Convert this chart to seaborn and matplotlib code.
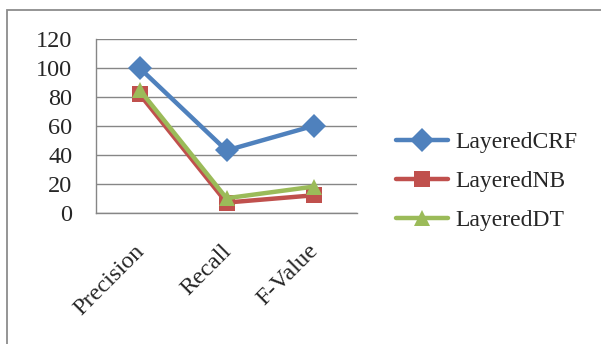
import matplotlib
matplotlib.use("Agg")
import matplotlib.pyplot as plt
import seaborn as sns
import pandas as pd
from matplotlib.patches import Rectangle
from matplotlib.lines import Line2D

categories = ["Precision", "Recall", "F-Value"]
series_names = ["LayeredCRF", "LayeredNB", "LayeredDT"]
crf_values = [100, 43, 60]
nb_values = [82, 7, 12]
dt_values = [85, 10, 18]
y_ticks = [0, 20, 40, 60, 80, 100, 120]

colors = ["#4F81BD", "#C0504D", "#9BBB59"]
markers = ["D", "s", "^"]
FS = 17.5

rows = []
for name, vals in zip(series_names, [crf_values, nb_values, dt_values]):
    for i, (c, v) in enumerate(zip(categories, vals)):
        rows.append({"pos": i, "category": c, "value": v, "series": name})
df = pd.DataFrame(rows)

sns.set_style("white")
plt.rcParams["font.family"] = ["Liberation Serif", "DejaVu Serif"]

fig = plt.figure(figsize=(6.01, 3.44), dpi=100)
ax = fig.add_axes([96 / 601, 1 - 212.7 / 344, (357 - 96) / 601, (212.7 - 39) / 344])

# outer chart frame (top and left edges visible)
fig.patches.append(Rectangle((7 / 601, -0.05), 1.1, 1 - 10 / 344 + 0.05,
                             transform=fig.transFigure, fill=False,
                             edgecolor="#8c8c8c", linewidth=1.3))

sns.lineplot(data=df, x="pos", y="value", hue="series", style="series",
             palette=colors, markers=markers, dashes=False, linewidth=3.2,
             markersize=12, markeredgewidth=0, ax=ax, legend=False, sort=False)

ax.set_xlim(-0.5, 2.5)
ax.set_ylim(0, 120)
ax.set_yticks(y_ticks)
ax.set_yticklabels([str(t) for t in y_ticks], fontsize=FS)
ax.set_xticks([-0.5, 0.5, 1.5, 2.5])
ax.set_xticklabels([])
ax.set_xlabel("")
ax.set_ylabel("")
ax.grid(axis="y", color="#868686", linewidth=1)
ax.set_axisbelow(True)
for s in ["top", "right"]:
    ax.spines[s].set_visible(False)
for s in ["left", "bottom"]:
    ax.spines[s].set_color("#868686")
    ax.spines[s].set_linewidth(1)
ax.tick_params(axis="both", length=6, width=1, color="#868686", direction="out")
ax.tick_params(axis="y", pad=11)

for i, c in enumerate(categories):
    ax.annotate(c, xy=(i, 0), xycoords=("data", "axes fraction"),
                xytext=(-4, -20), textcoords="offset points",
                rotation=45, ha="right", va="top", rotation_mode="anchor",
                fontsize=FS)

# series legend at the right of the plot
handles = [Line2D([0], [0], color=col, marker=m, linewidth=3.2, markersize=12,
                  markeredgewidth=0) for col, m in zip(colors, markers)]
fig.legend(handles, series_names, loc="upper left",
           bbox_to_anchor=(375 / 601, 1 - 110 / 344), frameon=False,
           fontsize=17, handlelength=2.2, labelspacing=0.75, handletextpad=0.3)

fig.savefig("out.png", dpi=100)
